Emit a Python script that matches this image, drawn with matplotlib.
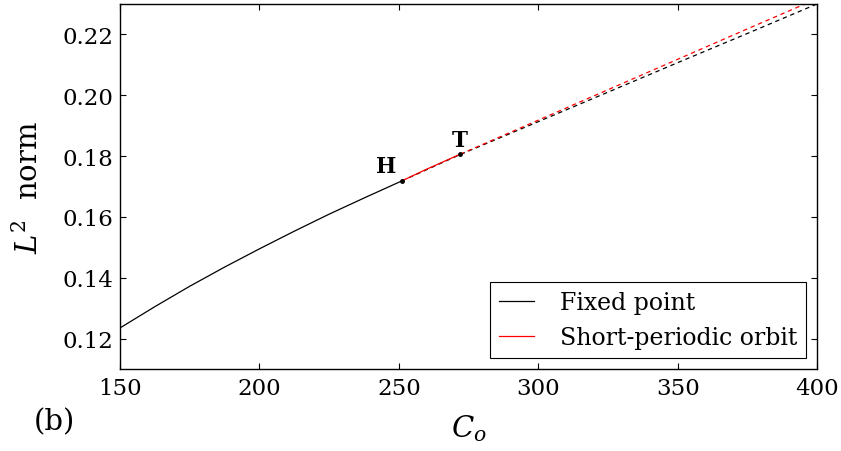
import numpy as np
import matplotlib
matplotlib.use("Agg")
import matplotlib.pyplot as plt

# fixed point branch (stable part, solid)
c_stable = [150, 162.5, 175, 187.5, 200, 212.5, 225, 237.5, 251]
l2_stable = [0.1235, 0.1305, 0.1372, 0.1435, 0.1495, 0.1553, 0.1609, 0.1662, 0.1718]
# fixed point branch (unstable part, dashed)
c_unstable = [251, 272, 300, 325, 350, 375, 400]
l2_unstable = [0.1718, 0.1805, 0.1913, 0.2010, 0.2107, 0.2203, 0.2300]
# short-periodic orbit: solid between H and T, dashed after T
c_po_solid = [251, 260, 272]
l2_po_solid = [0.1718, 0.1757, 0.1806]
c_po_dash = [272, 300, 325, 350, 375, 400]
l2_po_dash = [0.1806, 0.1918, 0.2018, 0.2118, 0.2218, 0.2317]
# bifurcation points
pt_names = ["H", "T"]
pt_c = [251, 272]
pt_l2 = [0.1718, 0.1806]

plt.rcParams['font.family'] = 'DejaVu Serif'
plt.rcParams['mathtext.fontset'] = 'dejavuserif'
plt.rcParams['axes.linewidth'] = 1.0

fig = plt.figure(figsize=(8.41, 4.52), dpi=100)
ax = fig.add_axes([0.1427, 0.1814, 0.8288, 0.8076])

ax.plot(c_stable, l2_stable, color="k", lw=0.9, label="Fixed point")
ax.plot(c_unstable, l2_unstable, color="k", lw=0.9, ls=(0, (3.5, 3)))
ax.plot(c_po_solid, l2_po_solid, color="r", lw=0.9, label="Short-periodic orbit")
ax.plot(c_po_dash, l2_po_dash, color="r", lw=0.9, ls=(0, (3.5, 3)))
ax.plot(pt_c, pt_l2, "k.", markersize=5, ls="none")

ax.text(pt_c[0] - 2, pt_l2[0] + 0.0012, pt_names[0], fontsize=15.5, fontweight="bold", ha="right", va="bottom")
ax.text(pt_c[1], pt_l2[1] + 0.0010, pt_names[1], fontsize=15.5, fontweight="bold", ha="center", va="bottom")

ax.set_xlim(150, 400)
ax.set_ylim(0.11, 0.23)
ax.set_xticks([150, 200, 250, 300, 350, 400])
ax.set_yticks([0.12, 0.14, 0.16, 0.18, 0.20, 0.22])
ax.tick_params(direction="in", top=True, right=True, labelsize=16.5, length=4, width=0.8)
ax.tick_params(axis="y", pad=5)
ax.tick_params(axis="x", pad=6)

ax.set_xlabel("$C_o$", fontsize=21, labelpad=9)
ax.set_ylabel("$L^2$  norm", fontsize=21, labelpad=13)
fig.text(0.065, 0.066, "(b)", fontsize=21, ha="center", va="center")

leg = ax.legend(loc="lower right", fontsize=17, fancybox=False, edgecolor="k",
                handlelength=1.45, handletextpad=1.1, borderaxespad=0.45, framealpha=1)
leg.get_frame().set_linewidth(0.8)

fig.savefig("out.png", dpi=100)
